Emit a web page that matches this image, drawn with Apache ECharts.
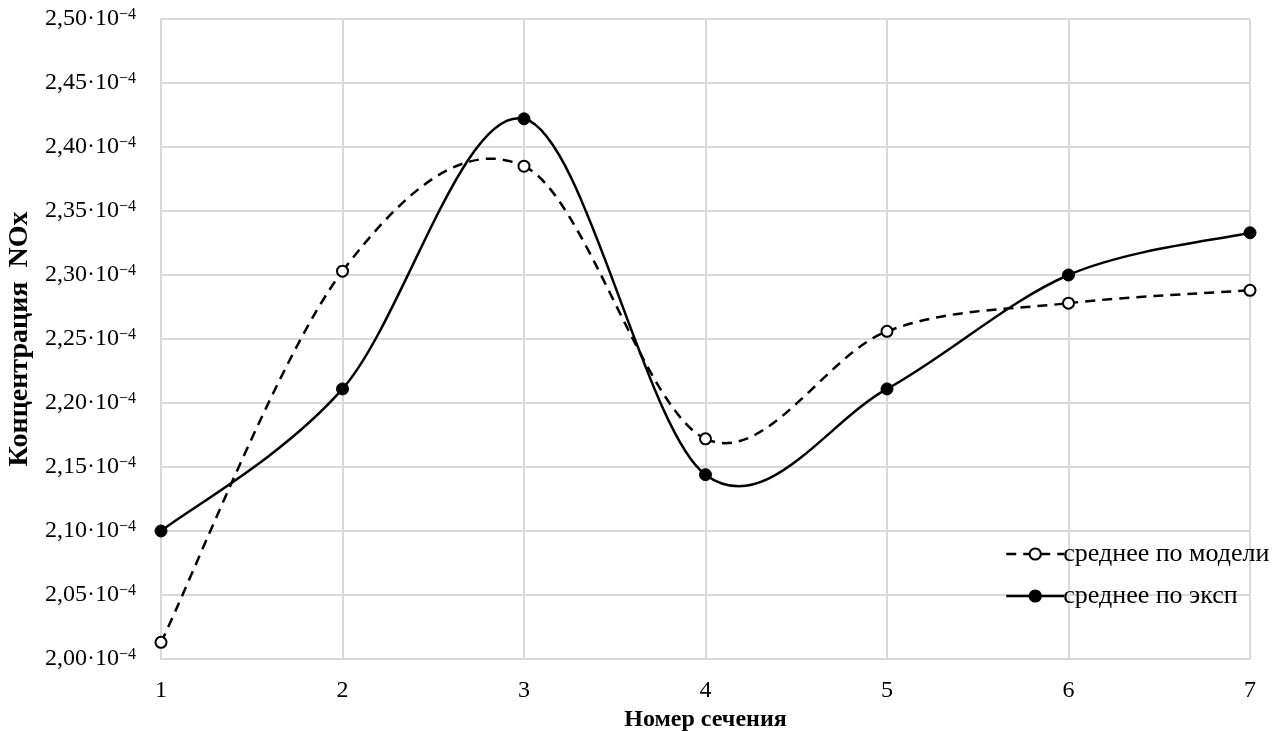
<!DOCTYPE html>
<html>
<head>
<meta charset="utf-8">
<script src="https://cdn.jsdelivr.net/npm/echarts@6/dist/echarts.min.js"></script>
<style>html,body{margin:0;padding:0;background:#fff;}#c{width:1287px;height:731px;}</style>
</head>
<body>
<div id="c"></div>
<script>
// values in units of 10^-4
var categories = ['1', '2', '3', '4', '5', '6', '7'];
var modelValues = [2.013, 2.303, 2.385, 2.172, 2.256, 2.278, 2.288];
var expValues = [2.100, 2.211, 2.422, 2.144, 2.211, 2.300, 2.333];
var seriesNames = ['среднее по модели', 'среднее по эксп'];
var yMin = 2.0, yMax = 2.5, yStep = 0.05;

var FONT = 'Liberation Serif';
var DASH = [10, 7];

// Excel-like smoothed curve (Catmull-Rom bezier) drawn through the axes' own coordinate mapping
function curveRenderer(values, dash) {
  return function (params, api) {
    if (params.dataIndex !== 0) return null;
    var pts = values.map(function (v, i) { return api.coord([i, v]); });
    var n = pts.length, children = [];
    for (var i = 0; i < n - 1; i++) {
      var p0 = pts[i > 0 ? i - 1 : i], p1 = pts[i], p2 = pts[i + 1], p3 = pts[i + 2 < n ? i + 2 : i + 1];
      children.push({
        type: 'bezierCurve',
        shape: {
          x1: p1[0], y1: p1[1], x2: p2[0], y2: p2[1],
          cpx1: p1[0] + (p2[0] - p0[0]) / 6, cpy1: p1[1] + (p2[1] - p0[1]) / 6,
          cpx2: p2[0] - (p3[0] - p1[0]) / 6, cpy2: p2[1] - (p3[1] - p1[1]) / 6
        },
        style: {fill: null, stroke: '#000', lineWidth: 2.5, lineDash: dash || null}
      });
    }
    return {type: 'group', children: children};
  };
}

var chart = echarts.init(document.getElementById('c'), null, {renderer: 'canvas'});
chart.setOption({
  animation: false,
  backgroundColor: '#fff',
  grid: {left: 161, right: 37, top: 19, bottom: 72, containLabel: false, outerBoundsMode: 'none'},
  legend: {
    orient: 'vertical', left: 1000, top: 536, itemGap: 16,
    itemWidth: 58, itemHeight: 14,
    textStyle: {fontFamily: FONT, fontSize: 26, color: '#000', padding: [0, 0, 0, -6]},
    data: [
      {name: seriesNames[0], lineStyle: {color: '#000', width: 2.5, type: DASH, opacity: 1}},
      {name: seriesNames[1], lineStyle: {color: '#000', width: 2.5, type: 'solid', opacity: 1}}
    ]
  },
  xAxis: {
    type: 'category', data: categories, boundaryGap: false,
    axisLine: {lineStyle: {color: '#d9d9d9', width: 2}},
    axisTick: {show: false},
    axisLabel: {fontFamily: FONT, fontSize: 24, color: '#000', margin: 20},
    splitLine: {show: true, lineStyle: {color: '#d9d9d9', width: 2}},
    name: 'Номер сечения', nameLocation: 'middle', nameGap: 37,
    nameTextStyle: {fontFamily: FONT, fontSize: 24, fontWeight: 'bold', color: '#000'}
  },
  yAxis: {
    type: 'value', min: yMin, max: yMax, interval: yStep,
    axisLine: {show: true, lineStyle: {color: '#d9d9d9', width: 2}},
    axisTick: {show: false},
    splitLine: {lineStyle: {color: '#d9d9d9', width: 2}},
    axisLabel: {
      margin: 25, color: '#000',
      formatter: function (v) { return '{m|' + v.toFixed(2).replace('.', ',') + '·10}{s|−4}'; },
      rich: {
        m: {fontFamily: FONT, fontSize: 24, color: '#000'},
        s: {fontFamily: FONT, fontSize: 16, color: '#000', verticalAlign: 'top', padding: [0, 0, 8, 0]}
      }
    },
    name: 'Концентрация  NOx', nameLocation: 'middle', nameGap: 124,
    nameTextStyle: {fontFamily: FONT, fontSize: 28, fontWeight: 'bold', color: '#000'}
  },
  series: [
    {
      name: 'curve-model', type: 'custom', data: modelValues.map(function (v, i) { return [i, v]; }),
      renderItem: curveRenderer(modelValues, DASH), silent: true, z: 2, clip: false
    },
    {
      name: 'curve-exp', type: 'custom', data: expValues.map(function (v, i) { return [i, v]; }),
      renderItem: curveRenderer(expValues, null), silent: true, z: 2, clip: false
    },
    {
      name: seriesNames[0], type: 'line', data: modelValues, z: 5,
      symbol: 'circle', symbolSize: 11, showAllSymbol: true,
      lineStyle: {width: 0, opacity: 0},
      itemStyle: {color: '#fff', borderColor: '#000', borderWidth: 2}
    },
    {
      name: seriesNames[1], type: 'line', data: expValues, z: 5,
      symbol: 'circle', symbolSize: 12, showAllSymbol: true,
      lineStyle: {width: 0, opacity: 0},
      itemStyle: {color: '#000', borderColor: '#000', borderWidth: 1}
    }
  ]
});
</script>
</body>
</html>
